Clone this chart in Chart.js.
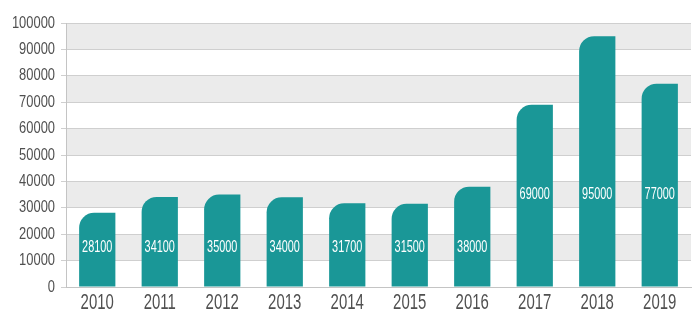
<!DOCTYPE html>
<html>
<head>
<meta charset="utf-8">
<script src="https://cdn.jsdelivr.net/npm/chart.js@4"></script>
<style>
  html, body { margin: 0; padding: 0; background: #fff; }
  #wrap { width: 700px; height: 325px; }
</style>
</head>
<body>
<div id="wrap"><canvas id="yearChart"></canvas></div>
<script>
const years = ["2010", "2011", "2012", "2013", "2014", "2015", "2016", "2017", "2018", "2019"];
const totals = [28100, 34100, 35000, 34000, 31700, 31500, 38000, 69000, 95000, 77000];
const yMax = 100000;
const yStep = 10000;

const FONT = "'Liberation Sans', Arial, sans-serif";
const TEAL = "#1a9797";
const INK = "#505050";

// narrow lettering: squeeze text horizontally around its anchor
function narrowText(ctx, text, x, y, size, squeeze, align) {
  ctx.save();
  ctx.font = size + "px " + FONT;
  ctx.textAlign = align;
  ctx.textBaseline = "middle";
  ctx.translate(x, y);
  ctx.scale(squeeze, 1);
  ctx.fillText(text, 0, 0);
  ctx.restore();
}

// alternate grey stripes behind the bars
const bandPlugin = {
  id: "bands",
  beforeDraw(chart) {
    const { ctx, chartArea, scales } = chart;
    const y = scales.y;
    ctx.save();
    ctx.fillStyle = "#ebebeb";
    for (let v = yStep; v < yMax; v += 2 * yStep) {
      const top = y.getPixelForValue(v + yStep);
      const bottom = y.getPixelForValue(v);
      ctx.fillRect(chartArea.left, top, chartArea.right - chartArea.left, bottom - top);
    }
    ctx.restore();
  }
};

// axis labels and the white value text inside each bar
const textPlugin = {
  id: "texts",
  afterDatasetsDraw(chart) {
    const { ctx, scales } = chart;
    const x = scales.x, y = scales.y;
    ctx.save();
    ctx.fillStyle = INK;
    y.ticks.forEach((t, i) => {
      narrowText(ctx, String(t.value), y.right - 11, y.getPixelForTick(i), 17, 0.76, "right");
    });
    x.ticks.forEach((t, i) => {
      narrowText(ctx, years[i], x.getPixelForTick(i), x.top + 16, 22, 0.68, "center");
    });
    ctx.fillStyle = "#fff";
    chart.getDatasetMeta(0).data.forEach((bar, i) => {
      const v = totals[i];
      const level = v > 60000 ? 35000 : 15000;
      narrowText(ctx, String(v), bar.x, y.getPixelForValue(level), 17, 0.64, "center");
    });
    ctx.restore();
  }
};

new Chart(document.getElementById("yearChart"), {
  type: "bar",
  data: {
    labels: years,
    datasets: [{
      data: totals,
      backgroundColor: TEAL,
      borderRadius: { topLeft: 15, topRight: 0, bottomLeft: 0, bottomRight: 0 },
      borderSkipped: false,
      categoryPercentage: 1,
      barPercentage: 0.58
    }]
  },
  options: {
    responsive: true,
    maintainAspectRatio: false,
    animation: false,
    layout: { padding: { top: 23, right: 9, left: 0, bottom: 0 } },
    plugins: { legend: { display: false }, tooltip: { enabled: false } },
    scales: {
      x: {
        grid: { display: false },
        border: { display: true, color: "#c4c4c4" },
        ticks: { color: "rgba(0,0,0,0)", font: { family: FONT, size: 19 } },
        afterFit(scale) { scale.height = 38; }
      },
      y: {
        min: 0,
        max: yMax,
        grid: { color: "#cfcfcf", tickLength: 5, drawTicks: true },
        border: { display: true, color: "#c4c4c4" },
        ticks: { stepSize: yStep, color: "rgba(0,0,0,0)", font: { family: FONT, size: 16 } },
        afterFit(scale) { scale.width = 66; }
      }
    }
  },
  plugins: [bandPlugin, textPlugin]
});
</script>
</body>
</html>
